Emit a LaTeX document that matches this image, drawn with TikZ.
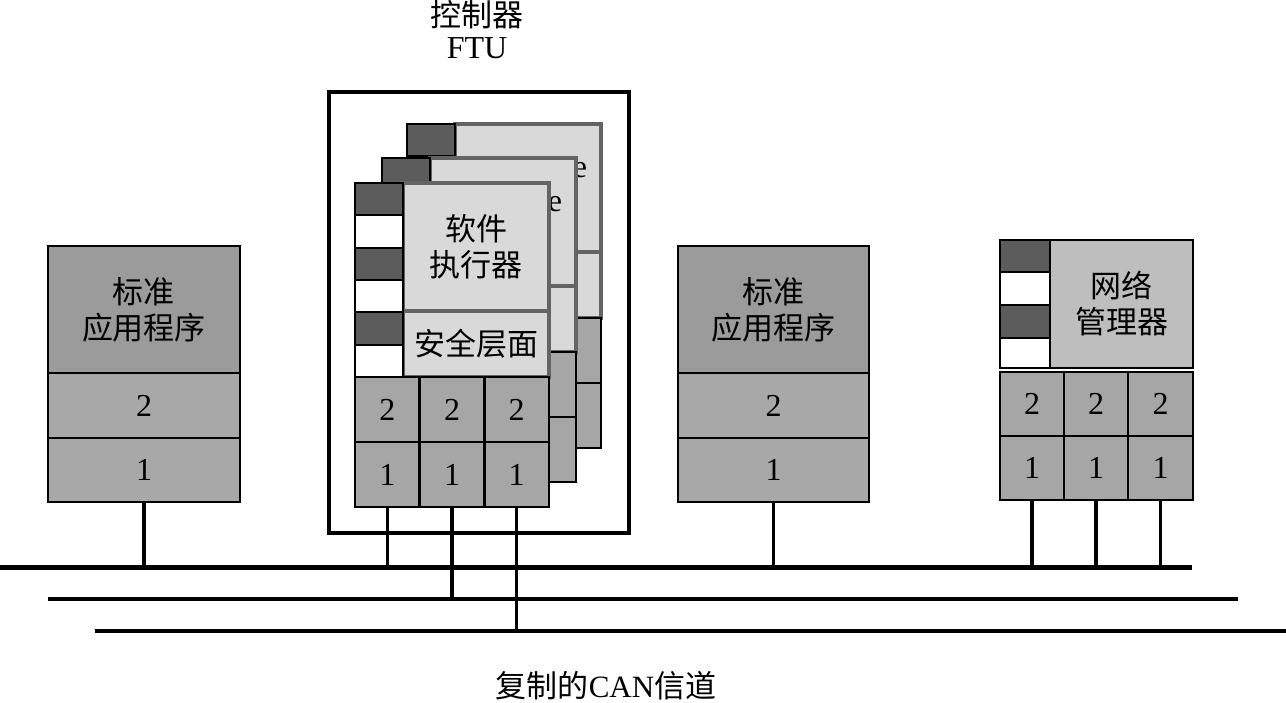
\documentclass[tikz,border=0pt]{standalone}
\usepackage{fontspec}
\setmainfont{Liberation Serif}
\newfontfamily\cjk{Noto Sans CJK SC}
\definecolor{cdark}{RGB}{92,92,92}
\definecolor{clight}{RGB}{217,217,217}
\definecolor{cedge}{RGB}{100,100,100}
\definecolor{cgrid}{RGB}{166,166,166}
\definecolor{capptop}{RGB}{155,155,155}
\definecolor{capp}{RGB}{168,168,168}
\definecolor{cnm}{RGB}{190,190,190}
\tikzset{
  base/.style={inner sep=0pt, outer sep=0pt, align=center, font=\fontsize{15.5}{18}\selectfont\cjk},
  darkcell/.style={base, draw=black, line width=1.1pt, fill=cdark},
  whitecell/.style={base, draw=black, line width=1.1pt, fill=white},
  mainbox/.style={base, draw=cedge, line width=1.6pt, fill=clight},
  gridcell/.style={base, draw=black, line width=1.2pt, fill=cgrid, font=\fontsize{16}{18}\selectfont},
  apptop/.style={base, draw=black, line width=1.3pt, fill=capptop},
  appcell/.style={base, draw=black, line width=1.3pt, fill=capp, font=\fontsize{16}{18}\selectfont},
  nmbox/.style={base, draw=black, line width=1.2pt, fill=cnm},
  ftubox/.style={base, draw=black, line width=1.6pt},
  label/.style={inner sep=0pt, align=center, font=\fontsize{15.5}{17}\selectfont\cjk},
  latin/.style={inner sep=0pt, font=\fontsize{16}{18}\selectfont},
  drop/.style={line width=1.6pt},
  busA/.style={line width=2.5pt},
  busB/.style={line width=2pt},
}
% box: style, name, x1, y1, x2, y2, text
\newcommand\bx[7]{%
  \pgfmathsetmacro\mybw{((#5)-(#3))*0.5}\pgfmathsetmacro\mybh{((#6)-(#4))*0.5}%
  \pgfmathsetmacro\mycx{((#3)+(#5))/2}\pgfmathsetmacro\mycy{((#4)+(#6))/2}%
  \node[#1, minimum width=\mybw pt, minimum height=\mybh pt] (#2) at (\mycx,\mycy) {#7};}
% card: prefix, x0, y0, main text, safety text, grid text top, grid text bottom
\newcommand\mycard[7]{%
  \pgfmathsetmacro\xa{#2}\pgfmathsetmacro\xb{#2+48}\pgfmathsetmacro\xc{#2+194}%
  \pgfmathsetmacro\ya{#3}\pgfmathsetmacro\yb{#3+128}\pgfmathsetmacro\yc{#3+194}%
  \bx{mainbox}{#1-main}{\xb}{\ya}{\xc}{\yb}{#4}
  \bx{mainbox}{#1-safe}{\xb}{\yb}{\xc}{\yc}{#5}
  \foreach \k in {0,...,5}{%
    \pgfmathsetmacro\ra{#3+\k*32.33}\pgfmathsetmacro\rb{#3+(\k+1)*32.33}%
    \pgfmathtruncatemacro\isodd{mod(\k,2)}%
    \ifnum\isodd=0
      \bx{darkcell}{#1-c\k}{#2}{\ra}{#2+48}{\rb}{}
    \else
      \bx{whitecell}{#1-c\k}{#2}{\ra}{#2+48}{\rb}{}
    \fi
  }
  \foreach \j in {0,1,2}{%
    \pgfmathsetmacro\ca{#2+\j*64.67}\pgfmathsetmacro\cb{#2+(\j+1)*64.67}%
    \bx{gridcell}{#1-t\j}{\ca}{#3+194}{\cb}{#3+259}{#6}
    \bx{gridcell}{#1-b\j}{\ca}{#3+259}{\cb}{#3+324}{#7}
  }
}
\begin{document}
\begin{tikzpicture}[x=0.5pt,y=-0.5pt]
\useasboundingbox (0,0) rectangle (1286,702);

% titles
\node[label] (title) at (477,15) {控制器};
\node[latin] (ftu) at (477,48) {FTU};
\node[label] (bottom) at (606,686) {复制的\fontspec{Liberation Serif}CAN\cjk 信道};

% FTU frame
\bx{ftubox}{frame}{329}{92}{629}{533}{}

% cards
\mycard{k3}{407}{124}{}{}{}{}
\node[latin] (e3) at (580,170) {e};
\mycard{k2}{382}{158}{}{}{}{}
\node[latin] (e2) at (555,204) {e};
\mycard{k1}{355}{183}{软件\\执行器}{安全层面}{2}{1}

% left standard application
\bx{apptop}{a1top}{48}{246}{240}{373}{标准\\应用程序}
\bx{appcell}{a1two}{48}{373}{240}{438}{2}
\bx{appcell}{a1one}{48}{438}{240}{502}{1}

% middle standard application
\bx{apptop}{a2top}{678}{246}{869}{373}{标准\\应用程序}
\bx{appcell}{a2two}{678}{373}{869}{438}{2}
\bx{appcell}{a2one}{678}{438}{869}{502}{1}

% network manager
\bx{nmbox}{nm}{1050}{240}{1193}{368}{网络\\管理器}
\bx{darkcell}{nmc0}{1000}{240}{1050}{272}{}
\bx{whitecell}{nmc1}{1000}{272}{1050}{305}{}
\bx{darkcell}{nmc2}{1000}{305}{1050}{338}{}
\bx{whitecell}{nmc3}{1000}{338}{1050}{368}{}
\bx{gridcell}{nmt0}{1000}{372}{1064}{436}{2}
\bx{gridcell}{nmt1}{1064}{372}{1128}{436}{2}
\bx{gridcell}{nmt2}{1128}{372}{1193}{436}{2}
\bx{gridcell}{nmb0}{1000}{436}{1064}{500}{1}
\bx{gridcell}{nmb1}{1064}{436}{1128}{500}{1}
\bx{gridcell}{nmb2}{1128}{436}{1193}{500}{1}

% buses
\coordinate (b1L) at (0,567);    \coordinate (b1R) at (1192,567);
\coordinate (b2L) at (48,599);   \coordinate (b2R) at (1238,599);
\coordinate (b3L) at (95,631);   \coordinate (b3R) at (1286,631);
\draw[busA] (b1L) -- (b1R);
\draw[busB] (b2L) -- (b2R);
\draw[busB] (b3L) -- (b3R);

% drops
\draw[drop] (a1one.south) -- (a1one.south |- b1L);
\draw[drop] (a2one.south) -- (a2one.south |- b1L);
\draw[drop] (k1-b0.south) -- (k1-b0.south |- b1L);
\draw[drop] (k1-b1.south) -- (k1-b1.south |- b2L);
\draw[drop] (k1-b2.south) -- (k1-b2.south |- b3L);
\draw[drop] (nmb0.south) -- (nmb0.south |- b1L);
\draw[drop] (nmb1.south) -- (nmb1.south |- b1L);
\draw[drop] (nmb2.south) -- (nmb2.south |- b1L);
\end{tikzpicture}
\end{document}
